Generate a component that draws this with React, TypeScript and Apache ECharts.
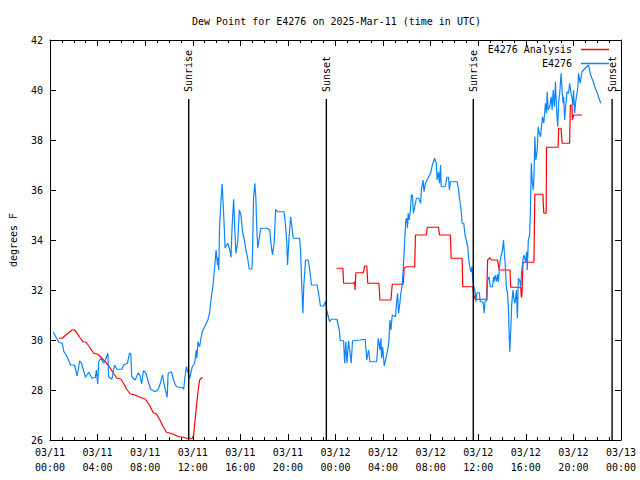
import React, { useEffect, useRef } from "react";
import * as echarts from "echarts";

const chartTitle = "Dew Point for E4276 on 2025-Mar-11 (time in UTC)";
const yAxisName = "degrees F";
const xTickLabels = [
  "03/11\n00:00", "03/11\n04:00", "03/11\n08:00", "03/11\n12:00", "03/11\n16:00", "03/11\n20:00",
  "03/12\n00:00", "03/12\n04:00", "03/12\n08:00", "03/12\n12:00", "03/12\n16:00", "03/12\n20:00",
  "03/13\n00:00",
];
const seriesNames = ["E4276 Analysis", "E4276"];

// hours since 2025-03-11 00:00 UTC
const sunTimes = [11.66, 23.23, 35.58, 47.25];
const sunLabels = ["Sunrise", "Sunset", "Sunrise", "Sunset"];

const analysisHours = [
  0.75, 1.03, 1.44, 1.86, 2.06, 2.28, 2.5, 2.78, 3.03, 3.31, 3.67, 4.03, 4.28, 4.65, 4.87, 5.07,
  5.34, 5.62, 5.95, 6.18, 6.45, 6.74, 7.15, 7.57, 7.99, 8.35, 8.68, 8.96, 9.24, 9.52, 9.79, 10.13,
  10.49, 10.85, 11.19, 11.52, 11.96, 12.08, 12.25, 12.44, 12.58, 12.8,
  18.0,
  24.07, 24.62, 24.68, 25.52, 25.6, 25.65, 25.71, 26.35, 26.44, 26.63, 26.71, 27.65, 27.74, 28.66,
  28.77, 29.69, 29.74, 29.77, 29.97, 30.66, 30.72, 31.64, 31.72, 32.66, 32.75, 33.66, 33.72, 34.64,
  34.7, 35.53, 35.62, 35.73, 36.7, 36.79, 36.98, 37.12, 37.62, 37.76, 38.67, 38.73, 39.57, 39.62,
  39.67, 39.76, 40.68, 40.76, 41.43, 41.51, 41.71, 41.74, 42.71, 42.76, 42.96, 43.05, 43.68, 43.74,
  43.88, 43.91, 44.01, 44.72,
];
const analysisValues = [
  30.07, 30.07, 30.24, 30.4, 30.4, 30.27, 30.11, 29.93, 29.91, 29.73, 29.47, 29.43, 29.31, 29.13, 29.0, 28.87,
  28.67, 28.47, 28.44, 28.27, 28.03, 27.84, 27.8, 27.71, 27.64, 27.4, 27.09, 27.04, 26.8, 26.53, 26.31, 26.27,
  26.2, 26.13, 26.11, 26.07, 26.07, 26.2, 27.07, 27.93, 28.4, 28.51,
  null,
  32.87, 32.87, 32.27, 32.27, 32.33, 32.0, 32.69, 32.69, 32.96, 32.96, 32.27, 32.27, 31.6, 31.6,
  32.23, 32.23, 32.6, 32.87, 32.93, 32.93, 34.2, 34.2, 34.51, 34.51, 34.2, 34.2, 33.27, 33.27,
  32.13, 32.13, 31.84, 31.63, 31.63, 33.2, 33.29, 33.2, 33.2, 32.8, 32.8, 32.11, 32.11, 31.71,
  31.75, 33.11, 33.11, 35.83, 35.83, 35.07, 35.07, 37.71, 37.71, 38.47, 38.47, 37.87, 37.87, 39.4,
  39.4, 38.8, 39.0, 39.0,
];

const stationHours = [
  0.28, 0.75, 1.03, 1.17, 1.44, 1.73, 2.06, 2.28, 2.5, 2.65, 2.98, 3.26, 3.53, 3.81, 3.9, 4.01,
  4.09, 4.28, 4.51, 4.65, 4.87, 4.92, 5.07, 5.2, 5.43, 5.62, 6.04, 6.18, 6.51, 6.68, 6.79, 6.87,
  7.15, 7.43, 7.57, 7.7, 7.85, 8.07, 8.26, 8.46, 8.82, 9.1, 9.29, 9.46, 9.57, 9.85, 9.93, 10.21,
  10.35, 10.49, 10.63, 11.13, 11.24, 11.33, 11.46, 11.74, 11.96, 12.16, 12.3, 12.35, 12.44, 12.58,
  12.71, 12.8, 13.27, 13.41, 13.55, 13.69, 13.77, 13.88, 13.96, 14.08, 14.13, 14.19, 14.25, 14.38,
  14.47, 14.52, 14.61, 14.72, 14.8, 14.94, 15.08, 15.22, 15.3, 15.44, 15.53, 15.63, 15.78, 15.92,
  16.05, 16.19, 16.34, 16.47, 16.61, 16.75, 16.97, 17.03, 17.11, 17.22, 17.3, 17.39, 17.47, 17.59,
  17.72, 18.28, 18.47, 18.56, 18.7, 18.84, 18.97, 19.12, 19.67, 19.76, 19.89, 19.97, 20.09, 20.23,
  20.37, 20.45, 20.98, 21.06, 21.14, 21.26, 21.34, 21.48, 21.7, 21.84, 21.98, 22.45, 22.6, 22.73,
  23.01, 23.15, 23.29, 23.43, 23.51, 23.65, 24.12, 24.32, 24.4, 24.68, 24.77, 24.87, 24.96, 25.1,
  25.32, 25.43, 26.07, 26.49, 26.63, 26.77, 26.9, 27.46, 27.6, 27.74, 27.82, 27.88, 27.96, 28.1,
  28.21, 28.38, 28.49, 28.57, 28.66, 28.77, 29.05, 29.13, 29.22, 29.3, 29.41, 29.49, 29.61, 29.69,
  29.82, 29.91, 29.99, 30.05, 30.11, 30.19, 30.3, 30.38, 30.47, 30.55, 30.66, 30.8, 30.99, 31.16,
  31.22, 31.36, 31.44, 31.55, 31.69, 31.99, 32.14, 32.33, 32.47, 32.55, 32.66, 32.75, 32.83, 32.89,
  33.22, 33.36, 33.5, 33.58, 33.66, 34.22, 34.33, 34.42, 34.56, 34.64, 34.78, 34.89, 35.12, 35.17,
  35.31, 35.39, 35.48, 35.53, 35.62, 35.73, 35.81, 35.89, 36.09, 36.17, 36.37, 36.45, 36.5, 36.56,
  36.73, 36.79, 36.92, 37.0, 37.2, 37.29, 37.34, 37.42, 37.54, 37.62, 37.7, 37.81, 37.9, 38.04,
  38.12, 38.17, 38.26, 38.37, 38.46, 38.54, 38.59, 38.65, 38.73, 38.81, 38.92, 39.01, 39.09, 39.21,
  39.29, 39.37, 39.48, 39.57, 39.65, 39.76, 39.84, 39.98, 40.07, 40.12, 40.21, 40.32, 40.38, 40.46,
  40.54, 40.62, 40.68, 40.76, 40.84, 40.96, 41.04, 41.13, 41.24, 41.32, 41.4, 41.51, 41.65, 41.74,
  41.79, 41.88, 42.01, 42.13, 42.21, 42.3, 42.4, 42.49, 42.57, 42.68, 42.76, 42.85, 42.96, 43.05,
  43.13, 43.18, 43.26, 43.38, 43.46, 43.6, 43.68, 43.8, 43.88, 43.96, 44.01, 44.1, 44.21, 44.3,
  44.38, 44.43, 44.57, 44.72, 44.85, 44.99, 45.18, 45.27, 45.41, 45.55, 45.68, 45.83, 45.97, 46.1,
  46.3,
];
const stationValues = [
  30.31, 29.9, 29.87, 29.53, 29.33, 29.0, 29.0, 28.56, 29.17, 29.07, 28.51, 28.71, 28.47, 28.5, 28.8, 28.24,
  29.13, 29.27, 29.07, 29.2, 29.47, 28.53, 28.47, 28.43, 29.0, 28.83, 28.83, 29.0, 29.07, 29.47, 29.47, 28.53,
  28.4, 28.69, 28.56, 28.24, 28.77, 28.67, 28.33, 28.03, 27.93, 28.03, 28.29, 28.6, 28.27, 27.71, 28.67, 28.73,
  28.47, 28.27, 28.13, 28.09, 28.03, 28.47, 28.93, 28.47, 28.93, 29.07, 29.6, 29.27, 29.93, 29.73,
  30.13, 30.33, 30.8, 31.07, 31.67, 32.13, 32.53, 33.13, 33.6, 33.0, 33.3, 32.8, 34.47, 35.6,
  36.24, 35.8, 34.93, 33.67, 33.77, 33.87, 33.67, 33.31, 34.47, 35.63, 34.47, 33.47, 33.93, 35.2,
  35.0, 34.33, 34.0, 33.6, 33.27, 32.84, 32.84, 33.6, 35.67, 36.27, 35.73, 34.4, 33.67, 34.07,
  34.47, 34.47, 34.4, 33.93, 33.4, 33.87, 35.23, 35.13, 35.13, 34.8, 34.07, 33.0, 34.07, 34.93,
  34.4, 34.07, 34.07, 33.6, 32.53, 31.07, 32.2, 33.2, 33.2, 32.8, 32.2, 32.2, 31.8, 31.36,
  31.36, 31.53, 31.13, 30.87, 30.73, 30.83, 30.83, 30.4, 29.97, 29.97, 29.07, 29.93, 29.07, 29.97,
  29.07, 29.97, 30.0, 30.03, 29.2, 29.6, 29.13, 29.13, 30.07, 29.6, 30.07, 29.27, 29.73, 28.96,
  29.2, 29.6, 29.93, 30.8, 30.4, 31.0, 30.93, 31.47, 31.87, 31.07, 31.47, 31.87, 32.2, 32.8,
  34.0, 34.8, 34.87, 34.47, 35.07, 34.8, 35.2, 35.8, 35.8, 35.07, 35.33, 35.67, 35.67, 35.47,
  36.0, 36.4, 35.93, 36.27, 36.4, 36.67, 37.0, 37.27, 37.07, 36.4, 36.73, 36.27, 37.0, 36.13,
  36.13, 36.51, 36.51, 36.0, 36.33, 36.33, 36.07, 35.67, 35.2, 34.67, 34.67, 34.2, 33.73, 33.33,
  32.87, 32.73, 32.93, 32.4, 32.16, 31.93, 31.53, 31.89, 31.89, 31.53, 31.53, 31.33, 31.07, 31.53,
  31.6, 32.4, 32.53, 32.13, 32.13, 32.53, 32.33, 32.6, 32.33, 32.63, 32.33, 33.07, 33.33, 33.6,
  34.0, 33.67, 33.07, 32.07, 31.87, 31.27, 30.33, 29.53, 30.4, 31.4, 32.0, 31.6, 31.47, 32.0,
  30.87, 32.47, 32.4, 32.13, 32.73, 33.2, 33.4, 33.13, 33.53, 32.8, 34.0, 34.2, 35.07, 37.07,
  36.33, 36.0, 36.53, 38.13, 37.2, 37.6, 38.53, 38.27, 38.13, 38.53, 38.93, 38.67, 39.47, 39.07,
  39.93, 39.2, 39.33, 39.73, 39.2, 40.0, 39.33, 40.33, 39.33, 38.53, 39.53, 39.87, 40.67, 40.0,
  39.47, 39.73, 38.8, 39.53, 39.93, 39.87, 40.27, 39.87, 39.67, 39.4, 40.0, 39.07, 39.6, 39.87,
  40.13, 40.67, 40.27, 40.73, 40.8, 40.87, 40.96, 41.0, 40.67, 40.47, 40.33, 40.07, 39.93, 39.73,
  39.47,
];

const FONT = '"DejaVu Sans Mono", "Liberation Mono", monospace';
const Y_MIN = 26;
const Y_MAX = 42;
const SUN_LINE_TOP = 39.64;

export default function App() {
  const ref = useRef<HTMLDivElement>(null);

  useEffect(() => {
    if (!ref.current) return;
    const chart = echarts.init(ref.current, undefined, { renderer: "svg" });

    const analysisData = analysisHours.map((h, i) => [h, analysisValues[i] === null ? "-" : analysisValues[i]]);
    const stationData = stationHours.map((h, i) => [h, stationValues[i]]);
    const sunData = sunTimes.map((h) => [h, Y_MIN]);

    const xCommon = {
      type: "value" as const,
      min: 0,
      max: 48,
      interval: 4,
      splitLine: { show: false },
      axisLine: { show: true, onZero: false, lineStyle: { color: "#000", width: 1 } },
      axisTick: { show: true, inside: true, length: 6, lineStyle: { color: "#000" } },
      minorTick: { show: true, splitNumber: 4, length: 3, lineStyle: { color: "#000" } },
      minorSplitLine: { show: false },
    };
    const yCommon = {
      type: "value" as const,
      min: Y_MIN,
      max: Y_MAX,
      interval: 2,
      splitLine: { show: false },
      axisLine: { show: true, onZero: false, lineStyle: { color: "#000", width: 1 } },
      axisTick: { show: true, inside: true, length: 6, lineStyle: { color: "#000" } },
    };

    chart.setOption({
      animation: false,
      backgroundColor: "#fff",
      textStyle: { fontFamily: FONT, fontSize: 10, color: "#000" },
      title: {
        text: chartTitle,
        left: 187,
        top: 11,
        textStyle: { fontFamily: FONT, fontSize: 10, fontWeight: "normal", color: "#000" },
      },
      legend: {
        data: seriesNames,
        orient: "vertical",
        right: 26,
        top: 39,
        align: "right",
        icon: "rect",
        itemWidth: 28,
        itemHeight: 1.5,
        itemGap: 3,
        textStyle: { fontFamily: FONT, fontSize: 10, color: "#000", padding: [0, 4, 0, 0], lineHeight: 11 },
        selectedMode: false,
      },
      grid: { left: 46, right: 19, top: 40, bottom: 40, containLabel: false },
      xAxis: [
        {
          ...xCommon,
          position: "bottom",
          axisLabel: {
            show: true,
            margin: 5,
            fontFamily: FONT,
            fontSize: 10,
            color: "#000",
            lineHeight: 15,
            formatter: (v: number) => xTickLabels[Math.round(v / 4)] ?? "",
          },
        },
        { ...xCommon, position: "top", axisLabel: { show: false } },
      ],
      yAxis: [
        {
          ...yCommon,
          position: "left",
          name: yAxisName,
          nameLocation: "middle",
          nameRotate: 90,
          nameGap: 32,
          nameTextStyle: { fontFamily: FONT, fontSize: 10, color: "#000" },
          axisLabel: { show: true, margin: 7, fontFamily: FONT, fontSize: 10, color: "#000" },
        },
        { ...yCommon, position: "right", axisLabel: { show: false } },
      ],
      series: [
        {
          name: seriesNames[0],
          type: "line",
          data: analysisData,
          showSymbol: false,
          symbol: "none",
          connectNulls: false,
          color: "#ff0000",
          lineStyle: { color: "#ff0000", width: 1.2 },
          z: 3,
        },
        {
          name: seriesNames[1],
          type: "line",
          data: stationData,
          showSymbol: false,
          symbol: "none",
          color: "#0a84ff",
          lineStyle: { color: "#0a84ff", width: 1.2 },
          z: 4,
        },
        {
          name: "sun",
          type: "custom",
          data: sunData,
          silent: true,
          clip: false,
          z: 5,
          renderItem: (params: any, api: any) => {
            const h = api.value(0);
            const bottom = api.coord([h, Y_MIN]);
            const top = api.coord([h, SUN_LINE_TOP]);
            return {
              type: "group",
              children: [
                {
                  type: "line",
                  shape: { x1: bottom[0], y1: bottom[1], x2: top[0], y2: top[1] },
                  style: { stroke: "#000", lineWidth: 1.4 },
                },
                {
                  type: "text",
                  x: top[0],
                  y: top[1] - 7,
                  rotation: Math.PI / 2,
                  style: {
                    text: sunLabels[params.dataIndex],
                    fill: "#000",
                    fontFamily: FONT,
                    fontSize: 10,
                    align: "left",
                    verticalAlign: "middle",
                  },
                },
              ],
            };
          },
        },
      ],
    });

    return () => chart.dispose();
  }, []);

  return (
    <div
      ref={ref}
      style={{ position: "fixed", left: 0, top: 0, width: 640, height: 480, background: "#fff" }}
    />
  );
}
